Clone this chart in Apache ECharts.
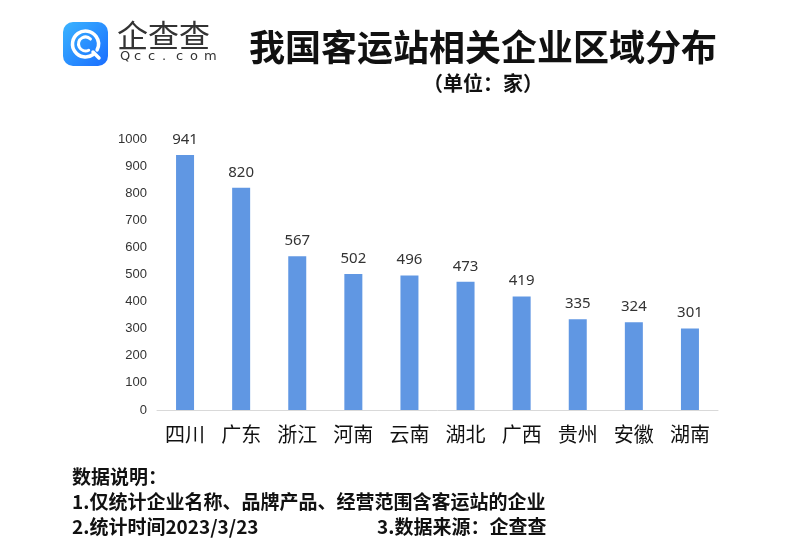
<!DOCTYPE html>
<html>
<head>
<meta charset="utf-8">
<script src="https://cdn.jsdelivr.net/npm/echarts@6/dist/echarts.min.js"></script>
<style>html,body{margin:0;padding:0;background:#fff;}#c{width:806px;height:560px;}</style>
</head>
<body>
<div id="c"></div>
<script>
const categories = ['四川','广东','浙江','河南','云南','湖北','广西','贵州','安徽','湖南'];
const values = [941, 820, 567, 502, 496, 473, 419, 335, 324, 301];
const yTicks = [0,100,200,300,400,500,600,700,800,900,1000];

const chart = echarts.init(document.getElementById('c'));
const cjk = '"Noto Sans CJK SC", "Noto Sans", sans-serif';
const urlChars = 'Qcc.com'.split('').map((ch, i) => ({
  type: 'text', x: 120 + i * 14, y: 57,
  style: {text: ch, fontSize: 13, fontFamily: '"DejaVu Sans", sans-serif', fill: '#333', verticalAlign: 'middle'}
}));
chart.setOption({
  backgroundColor: '#fff',
  animation: false,
  grid: {left: 157, right: 88, top: 139, bottom: 150},
  xAxis: {
    type: 'category', data: categories,
    axisLine: {lineStyle: {color: '#d9d9d9', width: 1}},
    axisTick: {show: false},
    axisLabel: {color: '#111', fontSize: 20, fontFamily: cjk, margin: 14}
  },
  yAxis: {
    type: 'value', min: yTicks[0], max: yTicks[yTicks.length-1], interval: 100,
    axisLine: {show: false}, axisTick: {show: false}, splitLine: {show: false},
    axisLabel: {color: '#333', fontSize: 13, fontFamily: 'Liberation Sans, sans-serif', margin: 10,
      formatter: v => String(v)}
  },
  series: [{
    type: 'bar', data: values, barWidth: 18,
    itemStyle: {color: '#6097e3'},
    label: {show: true, position: 'top', color: '#333', fontSize: 15, distance: 8, fontFamily: '"Noto Sans", sans-serif'}
  }],
  graphic: [
    {type: 'rect', shape: {x: 63, y: 22, width: 45, height: 44, r: 10},
     style: {fill: new echarts.graphic.LinearGradient(0,0,1,1,[{offset:0,color:'#3ab4ff'},{offset:1,color:'#1a6dff'}])}},
    {type: 'arc', shape: {cx: 85.5, cy: 44, r: 13, startAngle: Math.PI*0.3, endAngle: Math.PI*2.15},
     style: {stroke: '#fff', lineWidth: 3.5, fill: null, lineCap: 'round'}},
    {type: 'arc', shape: {cx: 85.5, cy: 44, r: 7, startAngle: Math.PI*0.35, endAngle: Math.PI*1.75},
     style: {stroke: '#fff', lineWidth: 3, fill: null, lineCap: 'round'}},
    {type: 'line', shape: {x1: 93, y1: 52, x2: 99, y2: 58}, style: {stroke: '#fff', lineWidth: 3.5, lineCap: 'round'}},
    {type: 'text', x: 117, y: 35, style: {text: '企查查', fontSize: 31, fontFamily: cjk, fill: '#333', verticalAlign: 'middle'}},
    ...urlChars,
    {type: 'text', x: 483, y: 47, style: {text: '我国客运站相关企业区域分布', fontSize: 36, fontWeight: 'bold', fontFamily: cjk, fill: '#111', align: 'center', verticalAlign: 'middle'}},
    {type: 'text', x: 483, y: 83, style: {text: '（单位：家）', fontSize: 20, fontWeight: 'bold', fontFamily: cjk, fill: '#111', align: 'center', verticalAlign: 'middle'}},
    {type: 'text', x: 72, y: 477, style: {text: '数据说明：', fontSize: 19, fontWeight: 'bold', fontFamily: cjk, fill: '#111', verticalAlign: 'middle'}},
    {type: 'text', x: 72, y: 502, style: {text: '1.仅统计企业名称、品牌产品、经营范围含客运站的企业', fontSize: 19, fontWeight: 'bold', fontFamily: cjk, fill: '#111', verticalAlign: 'middle'}},
    {type: 'text', x: 72, y: 527, style: {text: '2.统计时间2023/3/23', fontSize: 19, fontWeight: 'bold', fontFamily: cjk, fill: '#111', verticalAlign: 'middle'}},
    {type: 'text', x: 377, y: 527, style: {text: '3.数据来源：企查查', fontSize: 19, fontWeight: 'bold', fontFamily: cjk, fill: '#111', verticalAlign: 'middle'}}
  ]
});
</script>
</body>
</html>
